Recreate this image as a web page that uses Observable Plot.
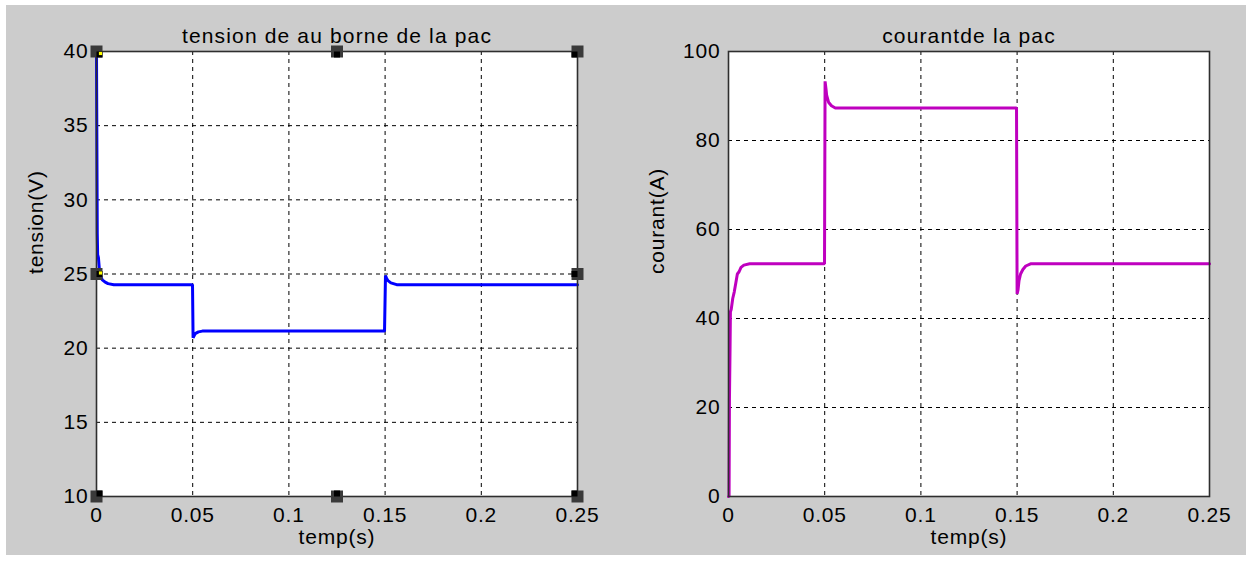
<!DOCTYPE html>
<html>
<head>
<meta charset="utf-8">
<script src="https://cdn.jsdelivr.net/npm/d3@7"></script>
<script src="https://cdn.jsdelivr.net/npm/@observablehq/plot@0.6"></script>
<style>
  body { margin: 0; background: #ffffff; }
  #fig { position: absolute; left: 6px; top: 5px; width: 1240px; height: 550px; background: #cccccc; }
  #fig svg { position: absolute; top: 0; }
</style>
</head>
<body>
<div id="fig"></div>
<script>
// ---- data ----
const xTicks = [0, 0.05, 0.1, 0.15, 0.2, 0.25];
const tensionTicks = [10, 15, 20, 25, 30, 35, 40];
const courantTicks = [0, 20, 40, 60, 80, 100];

const tensionTime = [0, 0.0004, 0.0006, 0.001, 0.0015, 0.002, 0.003, 0.0045, 0.006, 0.009, 0.0499,
  0.0502, 0.0508, 0.0515, 0.053, 0.055, 0.1497, 0.1502, 0.1508, 0.1515, 0.153, 0.156, 0.25];
const tensionValue = [40, 27.7, 26.3, 26.1, 25.3, 24.9, 24.6, 24.45, 24.35, 24.28, 24.28,
  20.7, 20.85, 21.0, 21.1, 21.15, 21.15, 24.9, 24.7, 24.55, 24.4, 24.28, 24.28];

const courantTime = [0, 0.0003, 0.0005, 0.0008, 0.001, 0.0014, 0.0022, 0.003, 0.0038, 0.0046, 0.0055,
  0.0065, 0.008, 0.011, 0.0499, 0.0502, 0.0507, 0.051, 0.052, 0.0535, 0.0555, 0.1497, 0.15, 0.1505,
  0.151, 0.1518, 0.153, 0.1545, 0.157, 0.25];
const courantValue = [0, 0, 22, 33, 41.5, 42, 44.5, 46, 48, 50, 50.5,
  51.5, 52, 52.3, 52.3, 93.3, 91.5, 90.2, 88.6, 87.8, 87.3, 87.3, 45.5, 46.5,
  48.5, 50, 51, 51.8, 52.3, 52.3];

const titles = ["tension de au borne de la pac", "courantde la pac"];
const yLabels = ["tension(V)", "courant(A)"];
const xLabel = "temp(s)";

// ---- build ----
const tensionData = tensionTime.map((t, i) => ({t, v: tensionValue[i]}));
const courantData = courantTime.map((t, i) => ({t, v: courantValue[i]}));

function handleMarks(xDomain, yDomain) {
  const xs = [xDomain[0], (xDomain[0] + xDomain[1]) / 2, xDomain[1]];
  const ys = [yDomain[1], (yDomain[0] + yDomain[1]) / 2, yDomain[0]];
  const marks = [];
  const so = 12 / Math.sqrt(Math.PI), si = 6 / Math.sqrt(Math.PI);
  for (let j = 0; j < 3; j++) {
    for (let i = 0; i < 3; i++) {
      if (i === 1 && j === 1) continue;
      const p = [{t: xs[i], v: ys[j]}];
      const dx = i === 0 ? 3 : i === 2 ? -3 : 0;
      const dy = j === 0 ? 3 : j === 2 ? -3 : 0;
      marks.push(Plot.dot(p, {x: "t", y: "v", symbol: "square", r: so, fill: "#3a3a3a"}));
      marks.push(Plot.dot(p, {x: "t", y: "v", symbol: "square", r: si, fill: "#000", dx, dy}));
      if (i === 0 && j !== 2) {
        marks.push(Plot.dot(p, {x: "t", y: "v", symbol: "square", r: 1.8, fill: "#ffff00", dx: 4, dy: j === 0 ? 2 : -1}));
      }
    }
  }
  return marks;
}

function makePlot({data, yDomain, yTicks, color, title, ylabel, mL, mR, ylabDx, handles}) {
  const svg = Plot.plot({
    width: 620,
    height: 550,
    marginLeft: mL,
    marginRight: mR,
    marginTop: 46,
    marginBottom: 59,
    style: "background: transparent; overflow: visible; font-family: 'Liberation Sans', Arial, sans-serif; font-size: 21px; letter-spacing: 0.8px; color: #000;",
    x: {domain: [0, 0.25], ticks: xTicks, tickFormat: d => String(d), tickSize: 0, tickPadding: 11, label: null},
    y: {domain: yDomain, ticks: yTicks, tickFormat: d => String(d), tickSize: 0, tickPadding: 8, label: null},
    marks: [
      Plot.frame({fill: "white"}),
      Plot.ruleX(xTicks, {stroke: "#000", strokeWidth: 1, strokeDasharray: "4,4"}),
      Plot.ruleY(yTicks, {stroke: "#000", strokeWidth: 1, strokeDasharray: "4,4"}),
      Plot.line(data, {x: "t", y: "v", stroke: color, strokeWidth: 3, strokeLinejoin: "miter"}),
      Plot.frame({stroke: "#2e2e2e", strokeWidth: 1.6}),
      ...(handles ? handleMarks([0, 0.25], yDomain) : []),
      Plot.text([title], {text: d => d, frameAnchor: "top", dy: -23.7, fontSize: 21}),
      Plot.text([xLabel], {text: d => d, frameAnchor: "bottom", dy: 47, fontSize: 21}),
      Plot.text([ylabel], {text: d => d, frameAnchor: "left", rotate: -90, dx: ylabDx, fontSize: 21})
    ]
  });
  svg.querySelectorAll("text").forEach(el => {
    if (el.textContent === title) el.style.letterSpacing = "1.15px";
  });
  return svg;
}

const left = makePlot({data: tensionData, yDomain: [10, 40], yTicks: tensionTicks, color: "#0000ff",
  title: titles[0], ylabel: yLabels[0], mL: 90, mR: 49, ylabDx: -60.7, handles: true});
const right = makePlot({data: courantData, yDomain: [0, 100], yTicks: courantTicks, color: "#bf00bf",
  title: titles[1], ylabel: yLabels[1], mL: 102, mR: 37, ylabDx: -71, handles: false});
left.style.left = "0px";
right.style.left = "620px";
const fig = document.getElementById("fig");
fig.appendChild(left);
fig.appendChild(right);
</script>
</body>
</html>
